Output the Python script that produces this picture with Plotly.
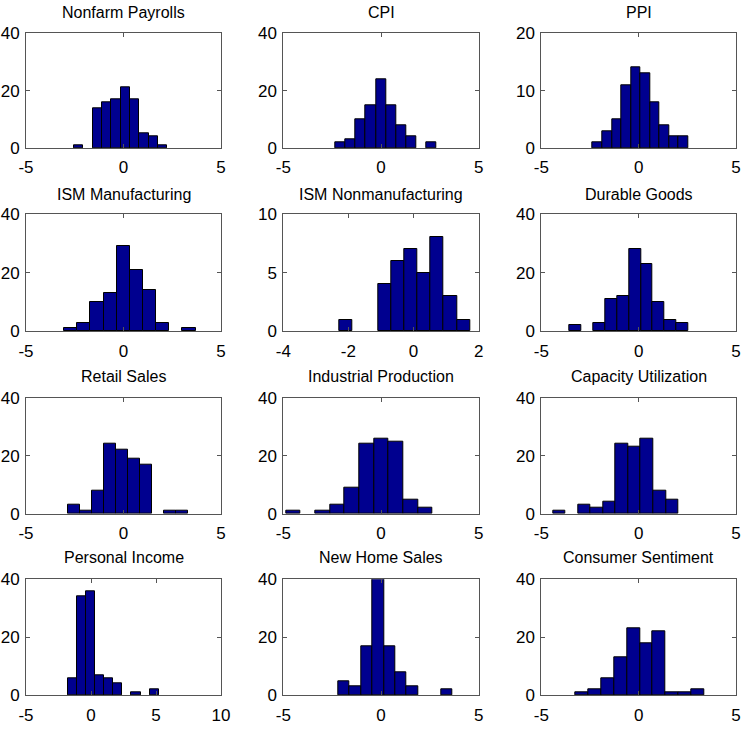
import plotly.graph_objects as go

titles = ["Nonfarm Payrolls", "CPI", "PPI",
          "ISM Manufacturing", "ISM Nonmanufacturing", "Durable Goods",
          "Retail Sales", "Industrial Production", "Capacity Utilization",
          "Personal Income", "New Home Sales", "Consumer Sentiment"]

# data range (min, max) of each series; 10 equal-width bins between them
data_min = [-2.54, -2.34, -2.36, -3.05, -2.28, -3.54, -2.83, -4.86, -4.40, -1.80, -2.18, -3.24]
data_max = [2.24, 2.85, 2.55, 3.70, 1.73, 2.55, 3.33, 2.65, 2.04, 5.21, 3.65, 3.36]

counts_nonfarm = [1, 0, 14, 16, 17, 21, 17, 5, 4, 1]
counts_cpi = [2, 3, 10, 15, 24, 15, 8, 4, 0, 2]
counts_ppi = [1, 3, 5, 11, 14, 13, 8, 4, 2, 2]
counts_ism_mfg = [1, 3, 10, 13, 29, 21, 14, 3, 0, 1]
counts_ism_nonmfg = [1, 0, 0, 4, 6, 7, 5, 8, 3, 1]
counts_durable = [2, 0, 3, 11, 12, 28, 23, 10, 4, 3]
counts_retail = [3, 1, 8, 24, 22, 19, 17, 0, 1, 1]
counts_indprod = [1, 0, 1, 3, 9, 24, 26, 25, 5, 2]
counts_caputil = [1, 0, 3, 2, 4, 24, 23, 26, 8, 5]
counts_income = [6, 34, 36, 7, 6, 4, 0, 1, 0, 2]
counts_homes = [5, 3, 17, 40, 17, 8, 3, 0, 0, 2]
counts_sentiment = [1, 2, 6, 13, 23, 18, 22, 1, 1, 2]

all_counts = [counts_nonfarm, counts_cpi, counts_ppi, counts_ism_mfg, counts_ism_nonmfg,
              counts_durable, counts_retail, counts_indprod, counts_caputil,
              counts_income, counts_homes, counts_sentiment]

x_ranges = [[-5, 5], [-5, 5], [-5, 5], [-5, 5], [-4, 2], [-5, 5],
            [-5, 5], [-5, 5], [-5, 5], [-5, 10], [-5, 5], [-5, 5]]
x_ticks = [[-5, 0, 5], [-5, 0, 5], [-5, 0, 5], [-5, 0, 5], [-4, -2, 0, 2], [-5, 0, 5],
           [-5, 0, 5], [-5, 0, 5], [-5, 0, 5], [-5, 0, 5, 10], [-5, 0, 5], [-5, 0, 5]]
y_ranges = [[0, 40], [0, 40], [0, 20], [0, 40], [0, 10], [0, 40],
            [0, 40], [0, 40], [0, 40], [0, 40], [0, 40], [0, 40]]
y_ticks = [[0, 20, 40], [0, 20, 40], [0, 10, 20], [0, 20, 40], [0, 5, 10], [0, 20, 40],
           [0, 20, 40], [0, 20, 40], [0, 20, 40], [0, 20, 40], [0, 20, 40], [0, 20, 40]]

W, H = 746, 741
col_px = [(26, 221), (283.3, 478.7), (541.3, 736)]
row_px = [(33.3, 148), (214, 331.3), (397.7, 513.7), (579.3, 695.3)]
title_y_px = [12, 194, 376, 557]

FONT = "Liberation Sans, Arial, Helvetica, sans-serif"
fig = go.Figure()
layout = dict(width=W, height=H, margin=dict(l=0, r=0, t=0, b=0, autoexpand=False),
              paper_bgcolor="white", plot_bgcolor="white", showlegend=False,
              font=dict(family=FONT, size=16, color="black"), bargap=0)
annotations = []

for i in range(12):
    r, c = divmod(i, 3)
    n = len(all_counts[i])
    w = (data_max[i] - data_min[i]) / n
    centers = [data_min[i] + (k + 0.5) * w for k in range(n)]
    heights = [v if v > 0 else None for v in all_counts[i]]
    sfx = "" if i == 0 else str(i + 1)
    fig.add_trace(go.Bar(x=centers, y=heights, width=w,
                         marker=dict(color="#00008F", line=dict(color="black", width=1)),
                         xaxis="x" + sfx, yaxis="y" + sfx, hoverinfo="x+y"))
    x0, x1 = col_px[c]
    y0, y1 = row_px[r]
    axstyle = dict(showline=True, linecolor="#555555", linewidth=1, mirror="ticks",
                   ticks="inside", ticklen=4, tickcolor="#555555", showgrid=False,
                   zeroline=False, tickfont=dict(family=FONT, size=17, color="black"),
                   fixedrange=True, automargin=False)
    layout["xaxis" + sfx] = dict(axstyle, domain=[x0 / W, x1 / W], range=x_ranges[i],
                                 tickvals=x_ticks[i], ticktext=[str(t) for t in x_ticks[i]],
                                 anchor="y" + sfx, ticklabelstandoff=4)
    layout["yaxis" + sfx] = dict(axstyle, domain=[1 - y1 / H, 1 - y0 / H], range=y_ranges[i],
                                 tickvals=y_ticks[i], ticktext=[str(t) for t in y_ticks[i]],
                                 anchor="x" + sfx, ticklabelstandoff=2)
    annotations.append(dict(text=titles[i], x=(x0 + x1) / 2 / W, y=1 - title_y_px[r] / H,
                            xref="paper", yref="paper", showarrow=False,
                            xanchor="center", yanchor="middle",
                            font=dict(family=FONT, size=16, color="black")))

layout["annotations"] = annotations
fig.update_layout(**layout)
fig.write_html("out.html")
